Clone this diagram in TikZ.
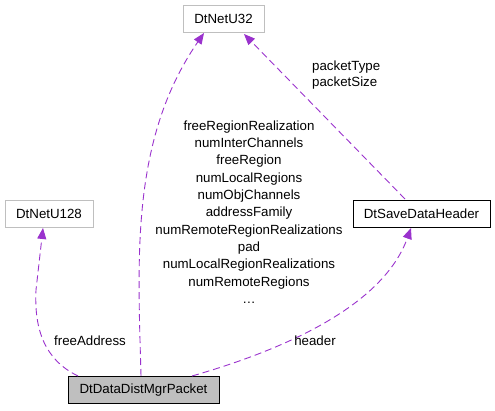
\documentclass[tikz,border=0pt]{standalone}
\usepackage{fontspec}
\setmainfont{Liberation Sans}
\usetikzlibrary{arrows.meta}
\definecolor{edgec}{HTML}{9A32CD}
\definecolor{grayb}{HTML}{BFBFBF}
\begin{document}
\begin{tikzpicture}[x=1pt,y=-1pt,
  box/.style={draw=black,rectangle,minimum height=27pt,inner sep=0pt,font=\fontsize{13.3}{16}\selectfont,line width=0.8pt},
  graybox/.style={box,draw=grayb},
  edge/.style={draw=edgec,dashed,dash pattern=on 7pt off 4pt,line width=0.9pt,-{Triangle[length=11pt,width=9pt]}},
  lbl/.style={font=\fontsize{13.3}{16}\selectfont,inner sep=0pt}]
\useasboundingbox (0,0) rectangle (495,411);
\node[graybox,minimum width=81pt] (u32) at (223.5,19) {DtNetU32};
\node[graybox,minimum width=88pt] (u128) at (49,213.5) {DtNetU128};
\node[box,minimum width=137pt] (sdh) at (421.5,213.5) {DtSaveDataHeader};
\node[box,minimum width=151pt,fill=grayb] (pkt) at (143.5,390) {DtDataDistMgrPacket};
\coordinate (p1) at (78,376);
\coordinate (p2) at (141,376);
\coordinate (p3) at (192,376);
\coordinate (s1) at (405,199);
\draw[edge] (p1) .. controls (45,360) and (34,330) .. (36,290) -- (43,228);
\draw[edge] (p2) .. controls (138,260) and (130,140) .. (204,33);
\draw[edge] (p3) .. controls (300,345) and (385,300) .. (411,228);
\draw[edge] (s1) -- (244,34);
\node[lbl] (la) at (90,341) {freeAddress};
\node[lbl] (lh) at (315,341) {header};
\node[lbl,anchor=north west,align=left] (lp) at (312,61) {packetType\\packetSize};
\node[lbl,align=center,font=\fontsize{13.3}{17.3}\selectfont] (lm) at (249,212) {freeRegionRealization\\numInterChannels\\freeRegion\\numLocalRegions\\numObjChannels\\addressFamily\\numRemoteRegionRealizations\\pad\\numLocalRegionRealizations\\numRemoteRegions\\\dots};
\end{tikzpicture}
\end{document}
